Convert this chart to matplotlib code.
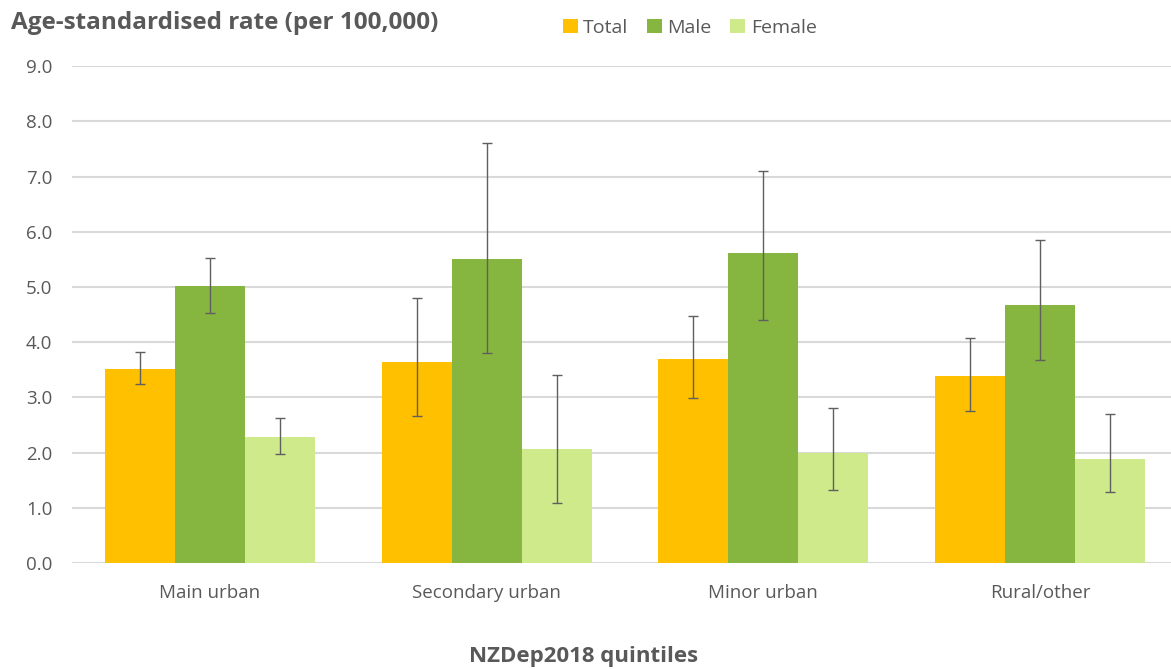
import matplotlib
matplotlib.use("Agg")
import matplotlib.pyplot as plt
import numpy as np

categories = ["Main urban", "Secondary urban", "Minor urban", "Rural/other"]
series_names = ["Total", "Male", "Female"]
total = [3.52, 3.65, 3.69, 3.39]
total_lo = [3.24, 2.66, 2.98, 2.76]
total_hi = [3.82, 4.80, 4.48, 4.08]
male = [5.01, 5.50, 5.62, 4.68]
male_lo = [4.52, 3.81, 4.40, 3.68]
male_hi = [5.53, 7.61, 7.11, 5.86]
female = [2.29, 2.06, 1.99, 1.89]
female_lo = [1.98, 1.08, 1.32, 1.28]
female_hi = [2.63, 3.41, 2.80, 2.70]
colors = ["#FFC000", "#86B540", "#CEEA8A"]
yticks = [0.0, 1.0, 2.0, 3.0, 4.0, 5.0, 6.0, 7.0, 8.0, 9.0]

plt.rcParams['font.family'] = ['Open Sans', 'DejaVu Sans']
fig = plt.figure(figsize=(11.71, 6.69), dpi=100)
ax = fig.add_axes([0.0612, 0.1585, 0.945, 0.7425])

x = np.arange(len(categories))
w = 0.253
data = [(total, total_lo, total_hi), (male, male_lo, male_hi), (female, female_lo, female_hi)]
for i, (vals, lo, hi) in enumerate(data):
    vals = np.array(vals); lo = np.array(lo); hi = np.array(hi)
    pos = x + (i - 1) * w
    ax.bar(pos, vals, width=w, color=colors[i], label=series_names[i], zorder=2)
    ax.errorbar(pos, vals, yerr=[vals - lo, hi - vals], fmt='none', ecolor='#5f5f5f',
                elinewidth=1.0, capsize=3.6, capthick=1.0, zorder=3)

ax.set_xlim(-0.5, 3.5)
ax.set_ylim(0, 9.0)
ax.set_yticks(yticks)
ax.set_yticklabels([f"{t:.1f}" for t in yticks])
ax.set_xticks(x)
ax.set_xticklabels(categories)
ax.grid(axis='y', color='#D9D9D9', linewidth=1.5, zorder=0)
ax.set_axisbelow(True)
for s in ax.spines.values():
    s.set_visible(False)
ax.tick_params(axis='both', length=0, colors='#595959')
ax.tick_params(axis='y', pad=14, labelsize=13.5)
ax.tick_params(axis='x', pad=15, labelsize=13.5)

fig.text(0.009, 0.965, "Age-standardised rate (per 100,000)", fontsize=17.5, fontweight='bold',
         color='#595959', va='center', ha='left')
fig.text(0.498, 0.019, "NZDep2018 quintiles", fontsize=16, fontweight='bold',
         color='#595959', va='center', ha='center')

leg = fig.legend(loc='center', bbox_to_anchor=(0.589, 0.958), ncol=3, frameon=False,
                 fontsize=14, handlelength=0.75, handleheight=0.75, handletextpad=0.3,
                 columnspacing=0.95, labelcolor='#595959')

fig.savefig("out.png", dpi=100)
